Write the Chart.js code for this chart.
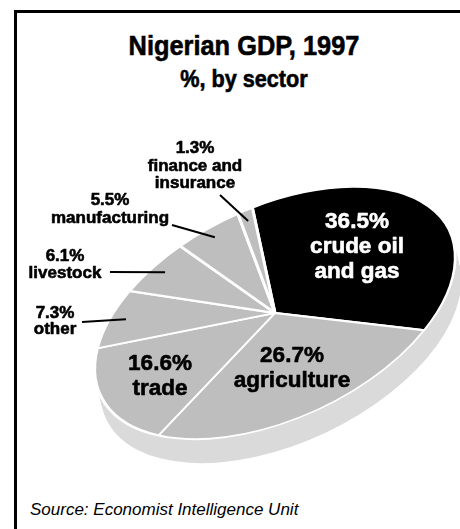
<!DOCTYPE html>
<html>
<head>
<meta charset="utf-8">
<script src="https://cdn.jsdelivr.net/npm/chart.js@4/dist/chart.umd.min.js"></script>
<style>
    html, body { margin: 0; padding: 0; background: #fff; overflow: hidden; }
    body { width: 460px; height: 529px; position: relative; }
    #frame
    {
        position: absolute; left: 14px; top: 10px; width: 470px; height: 560px;
        border: 3px solid #000; box-sizing: border-box;
    }
    .head
    {
        position: absolute; left: 14px; width: 460px; text-align: center; color: #000;
        font-family: 'Liberation Sans', Arial, sans-serif; font-weight: bold; white-space: nowrap;
        -webkit-text-stroke: 0.6px #000;
    }
    #title { top: 31px; font-size: 28.5px; line-height: 28.5px; transform: scaleX(0.89); }
    #subtitle { top: 68px; font-size: 23px; line-height: 23px; transform: scaleX(0.94); }
    #source
    {
        position: absolute; left: 30px; top: 501px; font-family: 'Liberation Sans', Arial, sans-serif;
        font-style: italic; font-size: 17px; line-height: 17px; color: #000; white-space: nowrap;
    }
    #pie { position: absolute; left: 0; top: 0; }
</style>
</head>
<body>
<div id="frame"></div>
<div id="title" class="head">Nigerian GDP, 1997</div>
<div id="subtitle" class="head">%, by sector</div>
<div id="source">Source: Economist Intelligence Unit</div>
<canvas id="pie" width="460" height="529"></canvas>
<script>
// Data, clockwise from the top
const sectors = ['crude oil and gas', 'agriculture', 'trade', 'other', 'livestock', 'manufacturing', 'finance and insurance'];
const shares = [36.5, 26.7, 16.6, 7.3, 6.1, 5.5, 1.3];
const labelLines = [['crude oil', 'and gas'], ['agriculture'], ['trade'], ['other'], ['livestock'], ['manufacturing'], ['finance and', 'insurance']];
const sliceColours = ['#000000', '#bebebe', '#bebebe', '#bebebe', '#bebebe', '#bebebe', '#bebebe'];

// Look of the tilted disc
const TILT = -25.3 * Math.PI / 180;   // rotation of the ellipse
const SQUASH = 0.547;                  // minor / major axis
const SIDE = { dx: 6, dy: 24, colour: '#dadada' };
const FONT = "'Liberation Sans', Arial, sans-serif";

// where each label's text goes (centre x, first baseline y); leader = outer end of the pointer
const labelLayout =
[
    { x: 357, y: 228, lh: 25, size: 22.5, colour: '#fff' },
    { x: 292, y: 362, lh: 25, size: 22.5, colour: '#000' },
    { x: 160, y: 370, lh: 25, size: 22.5, colour: '#000' },
    { x: 55, y: 318, lh: 16, size: 17, colour: '#000', leader: [82, 322] },
    { x: 65, y: 261, lh: 17, size: 17, colour: '#000', leader: [110, 272] },
    { x: 110, y: 205, lh: 18, size: 17, colour: '#000', leader: [172, 225] },
    { x: 195, y: 153, lh: 17.5, size: 17, colour: '#000', leader: [220, 195] }
];

function tilt(ctx, x, y)
{
    ctx.translate(x, y);
    ctx.rotate(TILT);
    ctx.scale(1, SQUASH);
    ctx.translate(-x, -y);
}

// point on the flat disc (angle, fraction of radius) mapped onto the screen
function onDisc(arc, angle, frac)
{
    const u = Math.cos(angle) * arc.outerRadius * frac;
    const v = Math.sin(angle) * arc.outerRadius * frac * SQUASH;
    return {
        x: arc.x + u * Math.cos(TILT) - v * Math.sin(TILT),
        y: arc.y + u * Math.sin(TILT) + v * Math.cos(TILT)
    };
}

const tiltPlugin =
{
    id: 'tiltPlugin',
    beforeDatasetsDraw(chart)
    {
        const ctx = chart.ctx;
        const arc = chart.getDatasetMeta(0).data[0];
        // the side of the disc: the same ellipse pushed down a little, many times
        ctx.save();
        ctx.fillStyle = SIDE.colour;
        for (let i = 1; i <= 24; i++)
        {
            const cx = arc.x + SIDE.dx * i / 24;
            const cy = arc.y + SIDE.dy * i / 24;
            ctx.save();
            tilt(ctx, cx, cy);
            ctx.beginPath();
            ctx.arc(cx, cy, arc.outerRadius, 0, Math.PI * 2);
            ctx.fill();
            ctx.restore();
        }
        ctx.restore();

        ctx.save();
        tilt(ctx, arc.x, arc.y);
    },
    afterDatasetsDraw(chart)
    {
        chart.ctx.restore();
    },
    afterDraw(chart)
    {
        const ctx = chart.ctx;
        const arcs = chart.getDatasetMeta(0).data;
        ctx.save();
        ctx.textAlign = 'center';
        ctx.textBaseline = 'alphabetic';
        ctx.lineJoin = 'round';
        arcs.forEach((arc, i) =>
        {
            const lay = labelLayout[i];
            const lines = [shares[i].toFixed(1) + '%'].concat(labelLines[i]);
            ctx.fillStyle = lay.colour;
            ctx.strokeStyle = lay.colour;
            ctx.lineWidth = 0.6;
            ctx.font = 'bold ' + lay.size + 'px ' + FONT;
            lines.forEach((t, k) =>
            {
                ctx.fillText(t, lay.x, lay.y + k * lay.lh);
                ctx.strokeText(t, lay.x, lay.y + k * lay.lh);   // a bit heavier, like the original face
            });
            if (lay.leader)
            {
                const p = onDisc(arc, (arc.startAngle + arc.endAngle) / 2, 0.9);
                ctx.strokeStyle = '#000';
                ctx.lineWidth = 2;
                ctx.beginPath();
                ctx.moveTo(lay.leader[0], lay.leader[1]);
                ctx.lineTo(p.x, p.y);
                ctx.stroke();
            }
        });
        ctx.restore();
    }
};

new Chart(document.getElementById('pie'),
{
    type: 'pie',
    data:
    {
        labels: sectors,
        datasets:
        [
            {
                data: shares,
                backgroundColor: sliceColours,
                borderColor: '#ffffff',
                borderWidth: 3,
                clip: false
            }
        ]
    },
    options:
    {
        responsive: false,
        devicePixelRatio: 1,
        animation: false,
        rotation: 7.3,
        radius: 193,
        layout: { padding: { left: 90, right: 0, top: 97, bottom: 0 } },
        plugins:
        {
            legend: { display: false },
            tooltip: { enabled: false }
        }
    },
    plugins: [tiltPlugin]
});
</script>
</body>
</html>
